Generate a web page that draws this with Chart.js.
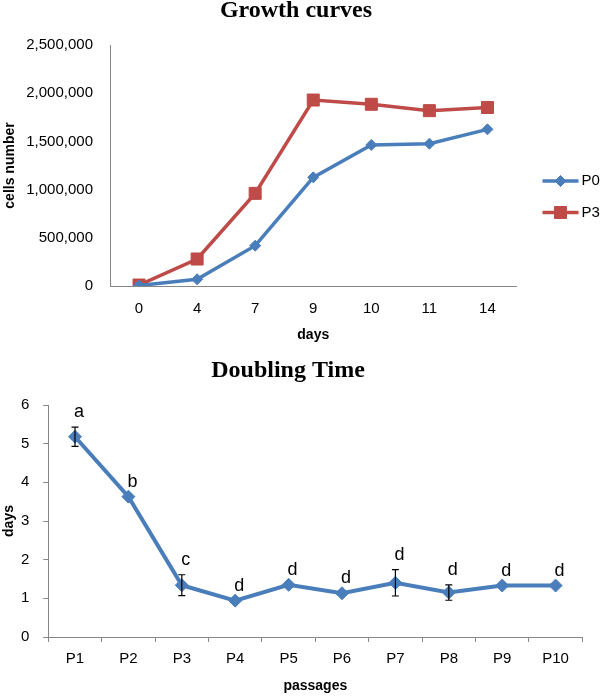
<!DOCTYPE html>
<html>
<head>
<meta charset="utf-8">
<script src="https://cdn.jsdelivr.net/npm/chart.js@4.4.0/dist/chart.umd.min.js"></script>
<style>
html,body{margin:0;padding:0;background:#fff;}
canvas{display:block;position:absolute;left:0;}
#c1{top:0;}
#c2{top:345px;}
</style>
</head>
<body>
<canvas id="c1" width="600" height="345"></canvas>
<canvas id="c2" width="600" height="351"></canvas>
<script>
// ---- Data: Growth curves ----
const days = ['0', '4', '7', '9', '10', '11', '14'];
const p0Cells = [5000, 70000, 418000, 1127000, 1463000, 1476000, 1625000];
const p3Cells = [10000, 280000, 961000, 1929000, 1885000, 1819000, 1852000];
const cellTicksMax = 2500000;
const cellTicksStep = 500000;

// ---- Data: Doubling time ----
const passages = ['P1', 'P2', 'P3', 'P4', 'P5', 'P6', 'P7', 'P8', 'P9', 'P10'];
const doublingTime = [5.18, 3.63, 1.34, 0.94, 1.35, 1.13, 1.40, 1.15, 1.33, 1.33];
const doublingErr = [0.25, 0, 0.27, 0, 0, 0, 0.34, 0.20, 0, 0];
const sigLetters = ['a', 'b', 'c', 'd', 'd', 'd', 'd', 'd', 'd', 'd'];

const SANS = "'Liberation Sans', Arial, sans-serif";
const SERIF = "'Liberation Serif', 'Times New Roman', serif";
const AXIS = '#868686';
const BLUE = '#4A7EBB';
const RED = '#BE4B48';

const titlePlugin = {
  id: 'customTitle',
  afterDraw(chart, args, opts) {
    const ctx = chart.ctx;
    ctx.save();
    ctx.font = 'bold 24px ' + SERIF;
    ctx.fillStyle = '#000';
    ctx.textAlign = 'center';
    ctx.textBaseline = 'middle';
    ctx.fillText(opts.text, opts.x, opts.y);
    ctx.restore();
  }
};

const sideLegend = {
  id: 'sideLegend',
  afterDraw(chart) {
    const ctx = chart.ctx;
    const a = chart.chartArea;
    const x0 = a.right + 26, x1 = a.right + 62;
    const yc = (a.top + a.bottom) / 2;
    chart.data.datasets.forEach((ds, i) => {
      const y = yc + 15.5 + i * 31.5;
      ctx.save();
      ctx.strokeStyle = ds.borderColor;
      ctx.lineWidth = ds.borderWidth;
      ctx.beginPath();
      ctx.moveTo(x0, y);
      ctx.lineTo(x1, y);
      ctx.stroke();
      ctx.fillStyle = ds.pointBackgroundColor;
      ctx.strokeStyle = ds.pointBorderColor;
      ctx.lineWidth = ds.pointBorderWidth;
      Chart.helpers.drawPoint(ctx, {pointStyle: ds.pointStyle, radius: ds.pointRadius, borderWidth: ds.pointBorderWidth, rotation: 0}, (x0 + x1) / 2, y);
      ctx.fillStyle = '#000';
      ctx.font = '15px ' + SANS;
      ctx.textAlign = 'left';
      ctx.textBaseline = 'middle';
      ctx.fillText(ds.label, x1 + 3, y);
      ctx.restore();
    });
  }
};

const errorLetters = {
  id: 'errorLetters',
  afterDatasetsDraw(chart) {
    const ctx = chart.ctx;
    const ys = chart.scales.y;
    const meta = chart.getDatasetMeta(0);
    ctx.save();
    meta.data.forEach((pt, i) => {
      let top = pt.y;
      const e = doublingErr[i];
      if (e > 0) {
        const yt = ys.getPixelForValue(doublingTime[i] + e);
        const yb = ys.getPixelForValue(doublingTime[i] - e);
        ctx.strokeStyle = '#000';
        ctx.lineWidth = 1.2;
        ctx.beginPath();
        ctx.moveTo(pt.x, yt); ctx.lineTo(pt.x, yb);
        ctx.moveTo(pt.x - 3.5, yt); ctx.lineTo(pt.x + 3.5, yt);
        ctx.moveTo(pt.x - 3.5, yb); ctx.lineTo(pt.x + 3.5, yb);
        ctx.stroke();
        top = yt;
      }
      ctx.fillStyle = '#000';
      ctx.font = '18px ' + SANS;
      ctx.textAlign = 'center';
      ctx.textBaseline = 'middle';
      ctx.fillText(sigLetters[i], pt.x + 4, top - 15);
    });
    ctx.restore();
  }
};

new Chart(document.getElementById('c1'), {
  type: 'line',
  data: {
    labels: days,
    datasets: [
      {label: 'P0', data: p0Cells, borderColor: BLUE, backgroundColor: BLUE, pointBackgroundColor: BLUE, pointBorderColor: BLUE,
       borderWidth: 3.5, pointStyle: 'rectRot', pointRadius: 5.5, pointBorderWidth: 1, tension: 0},
      {label: 'P3', data: p3Cells, borderColor: RED, backgroundColor: RED, pointBackgroundColor: RED, pointBorderColor: RED,
       borderWidth: 3.5, pointStyle: 'rect', pointRadius: 8.5, pointBorderWidth: 1, tension: 0}
    ]
  },
  options: {
    responsive: false, animation: false, devicePixelRatio: 1,
    layout: {padding: {left: 0, right: 83.5, top: 45, bottom: 0}},
    plugins: {
      legend: {display: false}, tooltip: {enabled: false}, title: {display: false},
      customTitle: {text: 'Growth curves', x: 296, y: 11}
    },
    scales: {
      x: {
        offset: true,
        grid: {display: false, drawTicks: false, offset: true},
        border: {display: true, color: AXIS, width: 1},
        ticks: {font: {family: SANS, size: 15}, color: '#000', padding: 14},
        title: {display: true, text: 'days', color: '#000', font: {family: SANS, size: 14, weight: 'bold'}, padding: {top: 0, bottom: 1}},
        afterFit(s) { s.height = 59; }
      },
      y: {
        min: 0, max: cellTicksMax,
        grid: {display: false, drawTicks: false},
        border: {display: true, color: AXIS, width: 1},
        ticks: {stepSize: cellTicksStep, font: {family: SANS, size: 15}, color: '#000', padding: 17,
                callback: v => Number(v).toLocaleString('en-US')},
        title: {display: true, text: 'cells number', color: '#000', font: {family: SANS, size: 14, weight: 'bold'}, padding: {top: 2, bottom: 0}},
        afterFit(s) { s.width = 110; }
      }
    }
  },
  plugins: [titlePlugin, sideLegend]
});

new Chart(document.getElementById('c2'), {
  type: 'line',
  data: {
    labels: passages,
    datasets: [
      {label: 'Doubling Time', data: doublingTime, borderColor: BLUE, backgroundColor: BLUE, pointBackgroundColor: BLUE, pointBorderColor: BLUE,
       borderWidth: 4, pointStyle: 'rectRot', pointRadius: 6.5, pointBorderWidth: 1, tension: 0}
    ]
  },
  options: {
    responsive: false, animation: false, devicePixelRatio: 1,
    layout: {padding: {left: 0, right: 17.7, top: 60, bottom: 0}},
    plugins: {
      legend: {display: false}, tooltip: {enabled: false}, title: {display: false},
      customTitle: {text: 'Doubling Time', x: 288, y: 25.5}
    },
    scales: {
      x: {
        offset: true,
        grid: {display: true, drawOnChartArea: false, drawTicks: true, tickLength: 5, offset: true, color: AXIS},
        border: {display: true, color: AXIS, width: 1},
        ticks: {font: {family: SANS, size: 15}, color: '#000', padding: 8},
        title: {display: true, text: 'passages', color: '#000', font: {family: SANS, size: 14, weight: 'bold'}, padding: {top: 0, bottom: 1}},
        afterFit(s) { s.height = 59; }
      },
      y: {
        min: 0, max: 6,
        grid: {display: true, drawOnChartArea: false, drawTicks: true, tickLength: 5, color: AXIS},
        border: {display: true, color: AXIS, width: 1},
        ticks: {stepSize: 1, font: {family: SANS, size: 15}, color: '#000', padding: 14},
        title: {display: true, text: 'days', color: '#000', font: {family: SANS, size: 14, weight: 'bold'}, padding: {top: 1, bottom: 0}},
        afterFit(s) { s.width = 48.3; }
      }
    }
  },
  plugins: [titlePlugin, errorLetters]
});
</script>
</body>
</html>
